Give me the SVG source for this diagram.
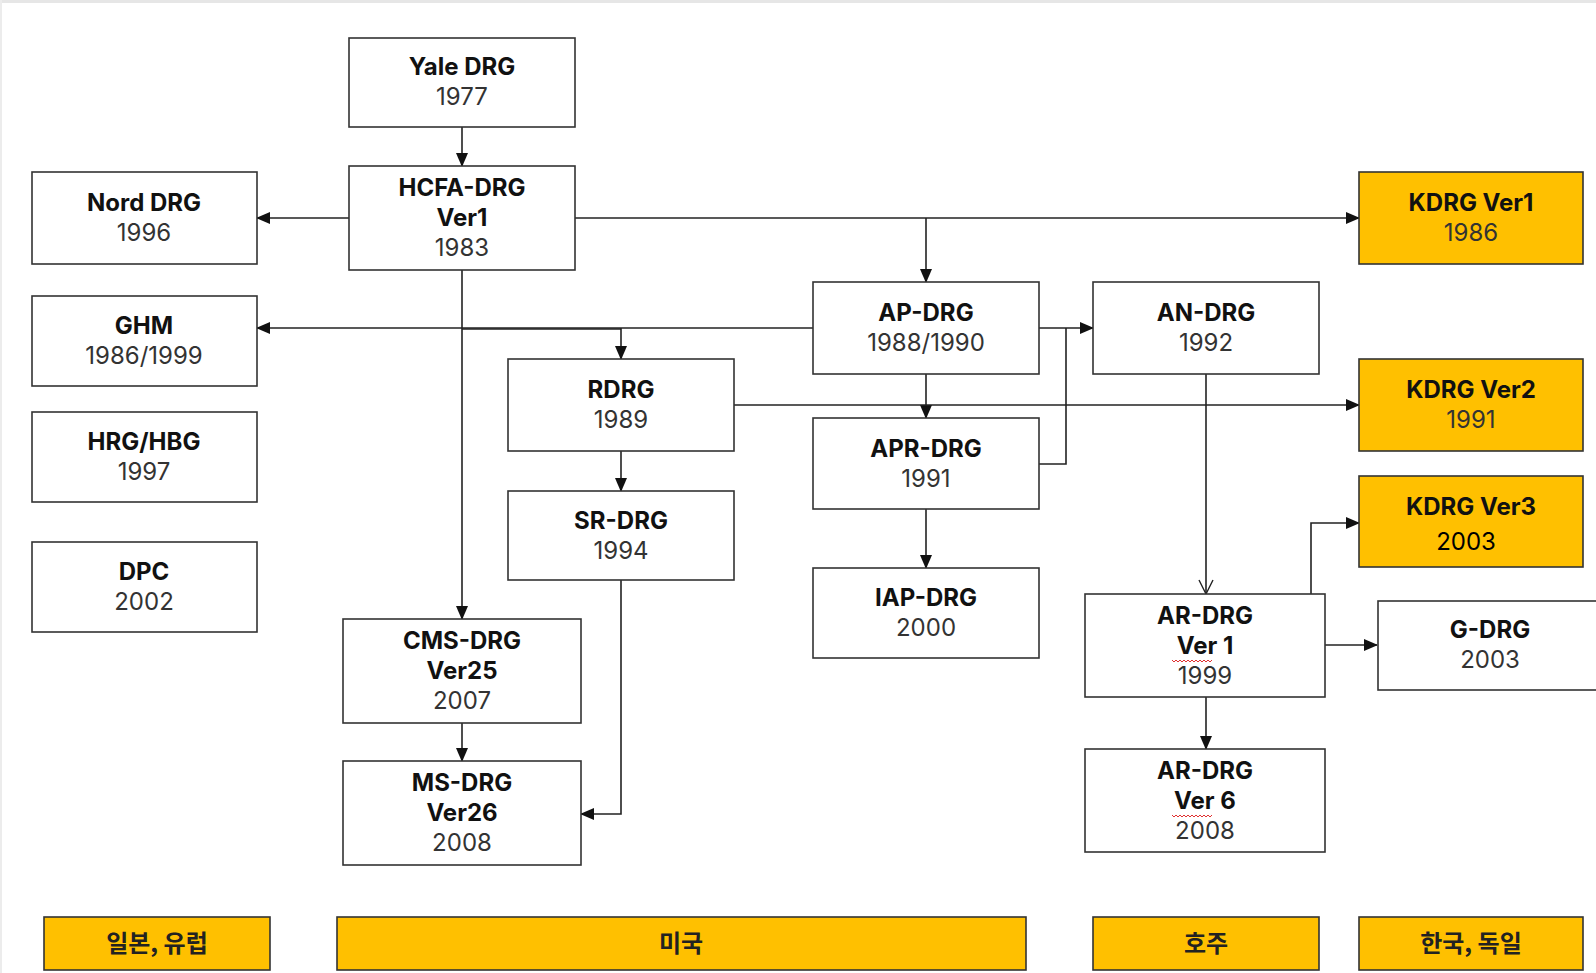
<svg xmlns="http://www.w3.org/2000/svg" width="1596" height="973" viewBox="0 0 1596 973">
<style>
.box{fill:#fff;stroke:#333;stroke-width:1.6}
.ora{fill:#FFC000;stroke:#333;stroke-width:1.6}
.t{font-family:Inter,"Open Sans","Liberation Sans",sans-serif;font-weight:bold;font-size:24px;fill:#111;text-anchor:middle}
.y{font-family:Inter,"Open Sans","Liberation Sans",sans-serif;font-size:24px;fill:#333;text-anchor:middle}
.k{font-family:"Noto Sans CJK KR","Noto Sans",sans-serif;font-weight:bold;font-size:24px;fill:#222;text-anchor:middle}
.c{fill:none;stroke:#222;stroke-width:1.6}
.sq{fill:none;stroke:#e03030;stroke-width:1}
</style>
<defs>
<marker id="ah" markerWidth="14" markerHeight="12" refX="13" refY="6" orient="auto" markerUnits="userSpaceOnUse"><path d="M0,0 L14,6 L0,12 z" fill="#111"/></marker>
<marker id="ao" markerWidth="16" markerHeight="14" refX="14" refY="7" orient="auto" markerUnits="userSpaceOnUse" overflow="visible"><path d="M0,0 L14,7 L0,14" fill="none" stroke="#222" stroke-width="1.4"/></marker>
</defs>
<rect x="0" y="0" width="1596" height="973" fill="#fff"/>
<rect x="0" y="0" width="1596" height="3" fill="#e6e6e6"/>
<rect x="0" y="0" width="2" height="973" fill="#ececec"/>

<g id="connectors">
<path class="c" d="M462,127 V166" marker-end="url(#ah)"/>
<path class="c" d="M349,218 H257" marker-end="url(#ah)"/>
<path class="c" d="M575,218 H1359" marker-end="url(#ah)"/>
<path class="c" d="M926,218 V282" marker-end="url(#ah)"/>
<path class="c" d="M462,270 V619" marker-end="url(#ah)"/>
<path class="c" d="M813,328 H257" marker-end="url(#ah)"/>
<path class="c" d="M462,329 H621" />
<path class="c" d="M621,328 V359" marker-end="url(#ah)"/>
<path class="c" d="M1039,328 H1093" marker-end="url(#ah)"/>
<path class="c" d="M1039,464 H1066 V328"/>
<path class="c" d="M926,374 V418" marker-end="url(#ah)"/>
<path class="c" d="M734,405 H1359" marker-end="url(#ah)"/>
<path class="c" d="M621,451 V491" marker-end="url(#ah)"/>
<path class="c" d="M926,509 V568" marker-end="url(#ah)"/>
<path class="c" d="M621,580 V814 H581" marker-end="url(#ah)"/>
<path class="c" d="M462,723 V761" marker-end="url(#ah)"/>
<path class="c" d="M1206,374 V594" marker-end="url(#ao)"/>
<path class="c" d="M1311,594 V523 H1359" marker-end="url(#ah)"/>
<path class="c" d="M1325,645 H1377" marker-end="url(#ah)"/>
<path class="c" d="M1206,697 V749" marker-end="url(#ah)"/>
</g>

<g id="yale"><rect class="box" x="349" y="38" width="226" height="89"/><text class="t" x="462" y="75">Yale DRG</text><text class="y" x="462" y="105">1977</text></g>
<g id="hcfa"><rect class="box" x="349" y="166" width="226" height="104"/><text class="t" x="462" y="196">HCFA-DRG</text><text class="t" x="462" y="226">Ver1</text><text class="y" x="462" y="256">1983</text></g>
<g id="nord"><rect class="box" x="32" y="172" width="225" height="92"/><text class="t" x="144" y="211">Nord DRG</text><text class="y" x="144" y="241">1996</text></g>
<g id="ghm"><rect class="box" x="32" y="296" width="225" height="90"/><text class="t" x="144" y="334">GHM</text><text class="y" x="144" y="364">1986/1999</text></g>
<g id="hrg"><rect class="box" x="32" y="412" width="225" height="90"/><text class="t" x="144" y="450">HRG/HBG</text><text class="y" x="144" y="480">1997</text></g>
<g id="dpc"><rect class="box" x="32" y="542" width="225" height="90"/><text class="t" x="144" y="580">DPC</text><text class="y" x="144" y="610">2002</text></g>
<g id="apdrg"><rect class="box" x="813" y="282" width="226" height="92"/><text class="t" x="926" y="321">AP-DRG</text><text class="y" x="926" y="351">1988/1990</text></g>
<g id="rdrg"><rect class="box" x="508" y="359" width="226" height="92"/><text class="t" x="621" y="398">RDRG</text><text class="y" x="621" y="428">1989</text></g>
<g id="andrg"><rect class="box" x="1093" y="282" width="226" height="92"/><text class="t" x="1206" y="321">AN-DRG</text><text class="y" x="1206" y="351">1992</text></g>
<g id="aprdrg"><rect class="box" x="813" y="418" width="226" height="91"/><text class="t" x="926" y="457">APR-DRG</text><text class="y" x="926" y="487">1991</text></g>
<g id="srdrg"><rect class="box" x="508" y="491" width="226" height="89"/><text class="t" x="621" y="529">SR-DRG</text><text class="y" x="621" y="559">1994</text></g>
<g id="iapdrg"><rect class="box" x="813" y="568" width="226" height="90"/><text class="t" x="926" y="606">IAP-DRG</text><text class="y" x="926" y="636">2000</text></g>
<g id="cmsdrg"><rect class="box" x="343" y="619" width="238" height="104"/><text class="t" x="462" y="649">CMS-DRG</text><text class="t" x="462" y="679">Ver25</text><text class="y" x="462" y="709">2007</text></g>
<g id="msdrg"><rect class="box" x="343" y="761" width="238" height="104"/><text class="t" x="462" y="791">MS-DRG</text><text class="t" x="462" y="821">Ver26</text><text class="y" x="462" y="851">2008</text></g>
<g id="ardrg1"><rect class="box" x="1085" y="594" width="240" height="103"/><text class="t" x="1205" y="624">AR-DRG</text><text class="t" x="1205" y="654">Ver 1</text><path class="sq" d="M1172,660 l2,2 l2,-2 l2,2 l2,-2 l2,2 l2,-2 l2,2 l2,-2 l2,2 l2,-2 l2,2 l2,-2 l2,2 l2,-2 l2,2 l2,-2 l2,2 l2,-2 l2,2 l2,-2"/><text class="y" x="1205" y="684">1999</text></g>
<g id="ardrg6"><rect class="box" x="1085" y="749" width="240" height="103"/><text class="t" x="1205" y="779">AR-DRG</text><text class="t" x="1205" y="809">Ver 6</text><path class="sq" d="M1172,815 l2,2 l2,-2 l2,2 l2,-2 l2,2 l2,-2 l2,2 l2,-2 l2,2 l2,-2 l2,2 l2,-2 l2,2 l2,-2 l2,2 l2,-2 l2,2 l2,-2 l2,2 l2,-2"/><text class="y" x="1205" y="839">2008</text></g>
<g id="gdrg"><rect class="box" x="1378" y="601" width="240" height="89"/><text class="t" x="1490" y="638">G-DRG</text><text class="y" x="1490" y="668">2003</text></g>
<g id="kdrg1"><rect class="ora" x="1359" y="172" width="224" height="92"/><text class="t" x="1471" y="211">KDRG Ver1</text><text class="y" x="1471" y="241">1986</text></g>
<g id="kdrg2"><rect class="ora" x="1359" y="359" width="224" height="92"/><text class="t" x="1471" y="398">KDRG Ver2</text><text class="y" x="1471" y="428">1991</text></g>
<g id="kdrg3"><rect class="ora" x="1359" y="476" width="224" height="91"/><text class="t" x="1471" y="515">KDRG Ver3</text><text class="y" x="1466" y="550" style="fill:#000">2003</text></g>

<g id="legend-jp-eu"><rect class="ora" x="44" y="917" width="226" height="53"/><text class="k" x="157" y="952">일본, 유럽</text></g>
<g id="legend-us"><rect class="ora" x="337" y="917" width="689" height="53"/><text class="k" x="681" y="952">미국</text></g>
<g id="legend-au"><rect class="ora" x="1093" y="917" width="226" height="53"/><text class="k" x="1206" y="952">호주</text></g>
<g id="legend-kr-de"><rect class="ora" x="1359" y="917" width="224" height="53"/><text class="k" x="1471" y="952">한국, 독일</text></g>
</svg>
